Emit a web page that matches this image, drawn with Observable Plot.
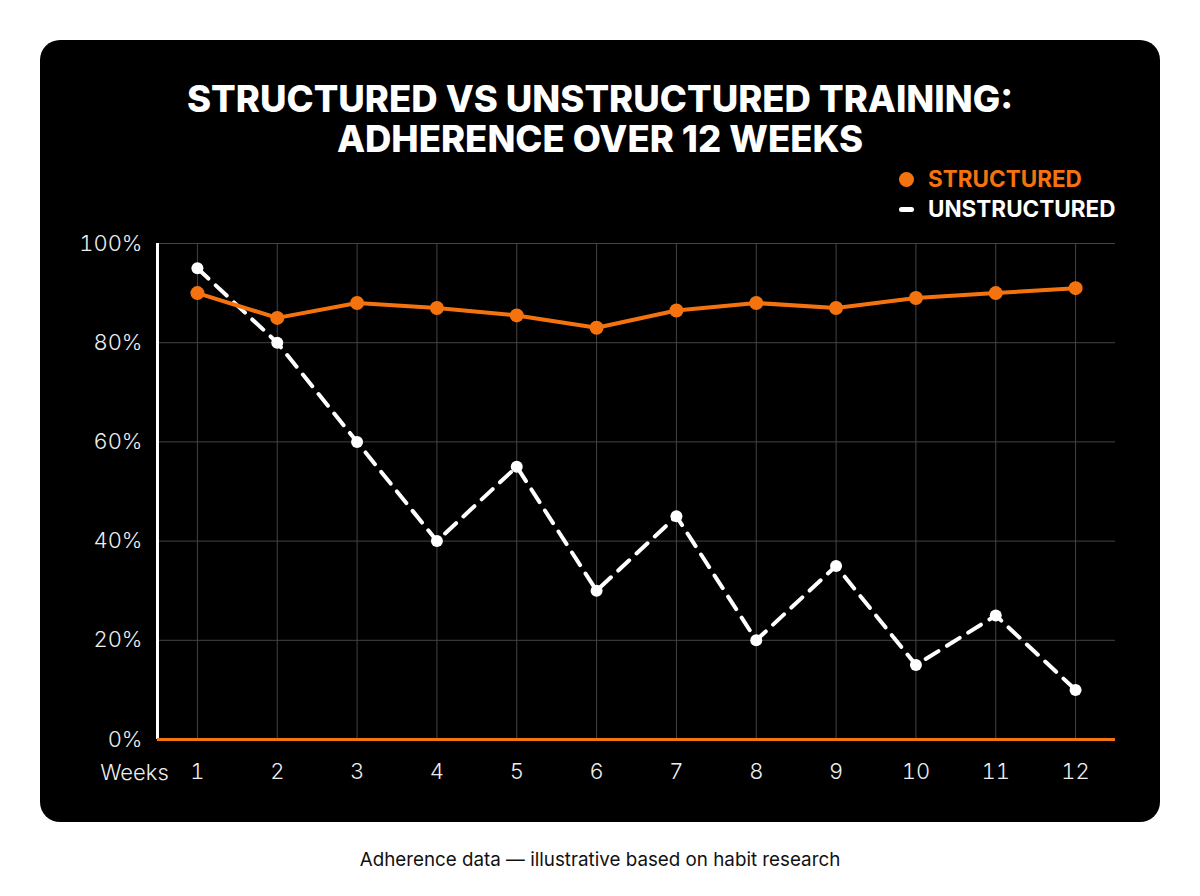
<!DOCTYPE html>
<html>
<head>
<meta charset="utf-8">
<script src="https://cdn.jsdelivr.net/npm/d3@7"></script>
<script src="https://cdn.jsdelivr.net/npm/@observablehq/plot@0.6"></script>
<style>
  html, body { margin: 0; padding: 0; background: #ffffff; }
  body { width: 1200px; height: 896px; position: relative; overflow: hidden; font-family: Inter, "Noto Sans", sans-serif; }
  #card { position: absolute; left: 40px; top: 40px; width: 1120px; height: 782px; background: #000; border-radius: 20px; overflow: hidden; }
  .title { position: absolute; left: 0; width: 1200px; text-align: center; color: #fff; font-family: Inter, sans-serif; font-weight: 800; font-size: 36.5px; line-height: 40px; margin: 0; }
  #legend { position: absolute; left: 898px; top: 164px; font-family: Inter, sans-serif; font-weight: 700; font-size: 22.5px; line-height: 30px; }
  .lg { display: flex; align-items: center; height: 30px; }
  .sw { width: 16px; margin-right: 14px; display: flex; justify-content: center; align-items: center; }
  #chart { position: absolute; left: 40px; top: 230px; }
  #caption { position: absolute; left: 0; top: 848px; width: 1200px; text-align: center; font-family: Inter, sans-serif; font-size: 18.8px; color: #111; }
  #chart svg text { font-weight: 300; }
</style>
</head>
<body>
<div id="card"></div>
<div class="title" style="top:79px">STRUCTURED VS UNSTRUCTURED TRAINING:</div>
<div class="title" style="top:119px">ADHERENCE OVER 12 WEEKS</div>
<div id="legend"></div>
<div id="chart"></div>
<div id="caption">Adherence data — illustrative based on habit research</div>
<script>
const weeks = [1, 2, 3, 4, 5, 6, 7, 8, 9, 10, 11, 12];
const structured = [90, 85, 88, 87, 85.5, 83, 86.5, 88, 87, 89, 90, 91];
const unstructured = [95, 80, 60, 40, 55, 30, 45, 20, 35, 15, 25, 10];
const seriesNames = ["STRUCTURED", "UNSTRUCTURED"];
const yTicks = [0, 20, 40, 60, 80, 100];

const ORANGE = "#f5730f";
const WHITE = "#ffffff";

const sData = weeks.map((w, i) => ({week: w, value: structured[i]}));
const uData = weeks.map((w, i) => ({week: w, value: unstructured[i]}));

// legend
const legend = document.getElementById("legend");
seriesNames.forEach((name, i) => {
  const row = document.createElement("div");
  row.className = "lg";
  const sw = document.createElement("div");
  sw.className = "sw";
  if (i === 0) {
    sw.innerHTML = `<div style="width:15px;height:15px;border-radius:50%;background:${ORANGE}"></div>`;
  } else {
    sw.innerHTML = `<div style="width:15px;height:5px;border-radius:3px;background:${WHITE}"></div>`;
  }
  const t = document.createElement("span");
  t.textContent = name;
  t.style.color = i === 0 ? ORANGE : WHITE;
  row.appendChild(sw);
  row.appendChild(t);
  legend.appendChild(row);
});

const W = 1120, H = 560;
const chart = Plot.plot({
  width: W,
  height: H,
  marginLeft: 117,
  marginRight: 45,
  marginTop: 13,
  marginBottom: 51,
  style: {background: "transparent", color: "#eeeeee", fontFamily: "Inter, sans-serif", fontSize: "22px", fontWeight: 300, overflow: "visible"},
  x: {domain: [0.5, 12.5], ticks: weeks, tickFormat: d => String(d), tickSize: 0, tickPadding: 22, label: null},
  y: {domain: [0, 100], ticks: yTicks, tickFormat: d => d + "%", tickSize: 0, tickPadding: 15, label: null},
  marks: [
    Plot.gridY(yTicks, {stroke: "#444", strokeOpacity: 1, strokeWidth: 1}),
    Plot.gridX(weeks, {stroke: "#444", strokeOpacity: 1, strokeWidth: 1}),
    Plot.axisY({ticks: yTicks, tickFormat: d => d + "%", tickSize: 0, tickPadding: 15, label: null, fill: "#eeeeee", fontSize: 22}),
    Plot.axisX({ticks: weeks, tickFormat: d => String(d), tickSize: 0, tickPadding: 24, label: null, fill: "#eeeeee", fontSize: 22}),
    Plot.text(["Weeks"], {frameAnchor: "bottom-left", dx: -23, dy: 33, lineAnchor: "middle", text: d => d, textAnchor: "middle", fill: "#eeeeee", fontSize: 22}),
    Plot.ruleX([0.5], {stroke: WHITE, strokeWidth: 3}),
    Plot.ruleY([0], {stroke: ORANGE, strokeWidth: 3}),
    Plot.line(uData, {x: "week", y: "value", stroke: WHITE, strokeWidth: 4, strokeDasharray: "15,10"}),
    Plot.dot(uData, {x: "week", y: "value", r: 6, fill: WHITE}),
    Plot.line(sData, {x: "week", y: "value", stroke: ORANGE, strokeWidth: 4}),
    Plot.dot(sData, {x: "week", y: "value", r: 7, fill: ORANGE})
  ]
});
document.getElementById("chart").appendChild(chart);
</script>
</body>
</html>
